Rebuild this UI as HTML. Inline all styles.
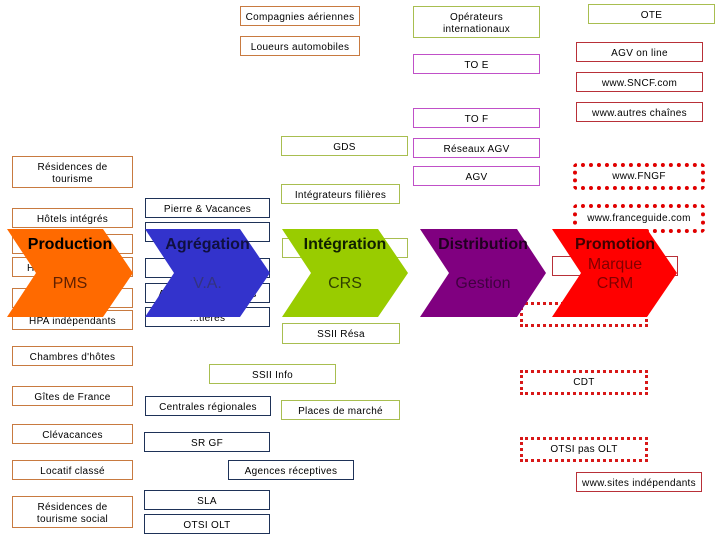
<!DOCTYPE html>
<html><head><meta charset="utf-8"><style>
body{margin:0;width:720px;height:540px;background:#fff;position:relative;overflow:hidden;font-family:"Liberation Sans",sans-serif}
.b{position:absolute;box-sizing:border-box;border:1px solid;background:#fff;font-size:10px;color:#000;display:flex;align-items:center;justify-content:center;text-align:center;line-height:12px;padding-top:3px;letter-spacing:0.3px}
.o{border-color:#c87a40}.g{border-color:#a8be50}.p{border-color:#c050c8}.r{border-color:#b83038}.n{border-color:#1e3258}
.d{border:4px dotted #e00000;border-radius:4px;padding-top:0}.s{border:3px dotted #d81818;padding-top:0}
svg{position:absolute;left:0;top:0}
.t{position:absolute;text-align:center;font-size:16px}
</style></head><body>
<div class="b o" style="left:240px;top:6px;width:120px;height:20px">Compagnies aériennes</div>
<div class="b o" style="left:240px;top:36px;width:120px;height:20px">Loueurs automobiles</div>
<div class="b g" style="left:413px;top:6px;width:127px;height:32px">Opérateurs<br>internationaux</div>
<div class="b g" style="left:588px;top:4px;width:127px;height:20px">OTE</div>
<div class="b r" style="left:576px;top:42px;width:127px;height:20px">AGV on line</div>
<div class="b p" style="left:413px;top:54px;width:127px;height:20px">TO E</div>
<div class="b r" style="left:576px;top:72px;width:127px;height:20px">www.SNCF.com</div>
<div class="b p" style="left:413px;top:108px;width:127px;height:20px">TO F</div>
<div class="b r" style="left:576px;top:102px;width:127px;height:20px">www.autres chaînes</div>
<div class="b g" style="left:281px;top:136px;width:127px;height:20px">GDS</div>
<div class="b p" style="left:413px;top:138px;width:127px;height:20px">Réseaux AGV</div>
<div class="b p" style="left:413px;top:166px;width:127px;height:20px">AGV</div>
<div class="b d" style="left:573px;top:163px;width:132px;height:27px">www.FNGF</div>
<div class="b g" style="left:281px;top:184px;width:119px;height:20px">Intégrateurs filières</div>
<div class="b d" style="left:573px;top:204px;width:132px;height:29px">www.franceguide.com</div>
<div class="b o" style="left:12px;top:156px;width:121px;height:32px">Résidences de<br>tourisme</div>
<div class="b o" style="left:12px;top:208px;width:121px;height:20px">Hôtels intégrés</div>
<div class="b n" style="left:145px;top:198px;width:125px;height:20px">Pierre &amp; Vacances</div>
<div class="b n" style="left:145px;top:222px;width:125px;height:20px"></div>
<div class="b o" style="left:12px;top:234px;width:121px;height:20px"></div>
<div class="b o" style="left:12px;top:257px;width:121px;height:20px;justify-content:flex-start;padding-left:14px">H</div>
<div class="b o" style="left:12px;top:288px;width:121px;height:20px"></div>
<div class="b o" style="left:12px;top:310px;width:121px;height:20px">HPA indépendants</div>
<div class="b n" style="left:145px;top:258px;width:125px;height:20px"></div>
<div class="b n" style="left:145px;top:283px;width:125px;height:20px">Au&nbsp;&nbsp;&nbsp;&nbsp;&nbsp;&nbsp;&nbsp;&nbsp;&nbsp;&nbsp;&nbsp;&nbsp;&nbsp;&nbsp;&nbsp;&nbsp;&nbsp;&nbsp;&nbsp;&nbsp;&nbsp;&nbsp;&nbsp;&nbsp;&nbsp;ts</div>
<div class="b n" style="left:145px;top:307px;width:125px;height:20px">...tières</div>
<div class="b g" style="left:282px;top:238px;width:126px;height:20px"></div>
<div class="b r" style="left:552px;top:256px;width:126px;height:20px">w</div>
<div class="b s" style="left:520px;top:302px;width:128px;height:25px">SIT</div>
<svg width="720" height="540">
<polygon points="7,229 103,229 133,273 103,317 7,317 36,273" fill="#ff6a00"/>
<polygon points="145,229 240,229 270,273 240,317 145,317 174,273" fill="#3333cc"/>
<polygon points="282,229 378,229 408,273 378,317 282,317 311,273" fill="#99cc00"/>
<polygon points="420,229 517,229 546,273 517,317 420,317 449,273" fill="#800080"/>
<polygon points="552,229 647,229 677,273 647,317 552,317 581,273" fill="#ff0000"/>
</svg>
<div class="t" style="left:7px;top:236px;width:126px;font-weight:bold">Production</div>
<div class="t" style="left:7px;top:275px;width:126px;color:#602000">PMS</div>
<div class="t" style="left:145px;top:236px;width:125px;font-weight:bold;color:#101040">Agrégation</div>
<div class="t" style="left:145px;top:275px;width:125px;color:#333380">V.A.</div>
<div class="t" style="left:282px;top:236px;width:126px;font-weight:bold;color:#102000">Intégration</div>
<div class="t" style="left:282px;top:275px;width:126px;color:#304000">CRS</div>
<div class="t" style="left:420px;top:236px;width:126px;font-weight:bold;color:#200020">Distribution</div>
<div class="t" style="left:420px;top:275px;width:126px;color:#400040">Gestion</div>
<div class="t" style="left:552px;top:236px;width:126px;font-weight:bold;color:#400000">Promotion</div>
<div class="t" style="left:552px;top:255px;width:126px;color:#800000;line-height:19px">Marque<br>CRM</div>
<div class="b g" style="left:282px;top:323px;width:118px;height:21px">SSII Résa</div>
<div class="b o" style="left:12px;top:346px;width:121px;height:20px">Chambres d'hôtes</div>
<div class="b g" style="left:209px;top:364px;width:127px;height:20px">SSII Info</div>
<div class="b s" style="left:520px;top:370px;width:128px;height:25px">CDT</div>
<div class="b o" style="left:12px;top:386px;width:121px;height:20px">Gîtes de France</div>
<div class="b n" style="left:145px;top:396px;width:126px;height:20px">Centrales régionales</div>
<div class="b g" style="left:281px;top:400px;width:119px;height:20px">Places de marché</div>
<div class="b o" style="left:12px;top:424px;width:121px;height:20px">Clévacances</div>
<div class="b n" style="left:144px;top:432px;width:126px;height:20px">SR GF</div>
<div class="b s" style="left:520px;top:437px;width:128px;height:25px">OTSI pas OLT</div>
<div class="b o" style="left:12px;top:460px;width:121px;height:20px">Locatif classé</div>
<div class="b n" style="left:228px;top:460px;width:126px;height:20px">Agences réceptives</div>
<div class="b r" style="left:576px;top:472px;width:126px;height:20px">www.sites indépendants</div>
<div class="b o" style="left:12px;top:496px;width:121px;height:32px">Résidences de<br>tourisme social</div>
<div class="b n" style="left:144px;top:490px;width:126px;height:20px">SLA</div>
<div class="b n" style="left:144px;top:514px;width:126px;height:20px">OTSI OLT</div>
</body></html>
